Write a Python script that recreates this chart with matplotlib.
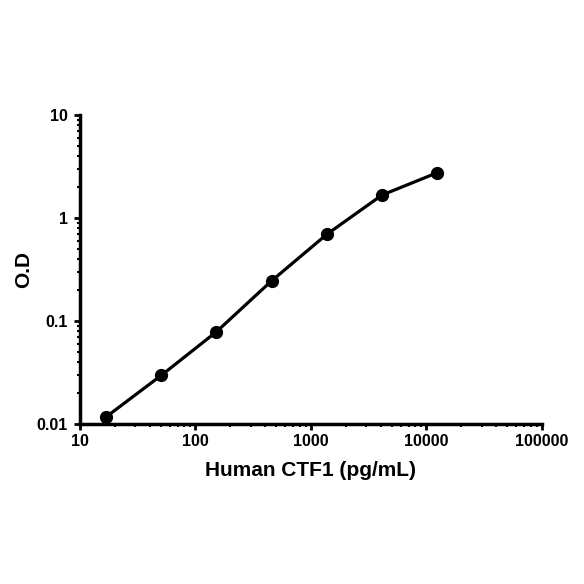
import numpy as np
import matplotlib
matplotlib.use('Agg')
from matplotlib import pyplot as plt
from matplotlib.ticker import LogLocator, FixedLocator, FixedFormatter

# standard curve values
conc = [16.8, 50.6, 152, 457, 1372, 4115, 12346]   # pg/mL
od = [0.0117, 0.0297, 0.0787, 0.246, 0.695, 1.67, 2.75]

xticks = [10, 100, 1000, 10000, 100000]
xlabels = ['10', '100', '1000', '10000', '100000']
yticks = [0.01, 0.1, 1, 10]
ylabels = ['0.01', '0.1', '1', '10']

plt.rcParams['font.family'] = ['Liberation Sans', 'DejaVu Sans']

fig = plt.figure(figsize=(5.84, 5.84), dpi=100)
ax = fig.add_axes([0.137, 0.274, 0.791, 0.529])

ax.plot(conc, od, color='black', lw=2.3, marker='o', ms=8.5, solid_capstyle='round')

ax.set_xscale('log')
ax.set_yscale('log')
ax.set_xlim(10, 100000)
ax.set_ylim(0.01, 10)

ax.xaxis.set_major_locator(FixedLocator(xticks))
ax.xaxis.set_major_formatter(FixedFormatter(xlabels))
ax.yaxis.set_major_locator(FixedLocator(yticks))
ax.yaxis.set_major_formatter(FixedFormatter(ylabels))
ax.xaxis.set_minor_locator(LogLocator(base=10, subs=np.arange(2, 10)))
ax.yaxis.set_minor_locator(LogLocator(base=10, subs=np.arange(2, 10)))

for side in ['top', 'right']:
    ax.spines[side].set_visible(False)
for side in ['left', 'bottom']:
    ax.spines[side].set_linewidth(2.5)

ax.tick_params(which='major', direction='out', length=4, width=2)
ax.tick_params(which='minor', direction='out', length=2.5, width=1.5)
ax.tick_params(axis='y', labelsize=11.5, pad=5)
ax.tick_params(axis='x', labelsize=11.5, pad=3)
for lbl in ax.get_xticklabels() + ax.get_yticklabels():
    lbl.set_fontweight('bold')

ax.set_xlabel('Human CTF1 (pg/mL)', fontsize=15, fontweight='bold', labelpad=9)
ax.set_ylabel('O.D', fontsize=15, fontweight='bold', labelpad=2)

fig.savefig('out.png', dpi=100)
